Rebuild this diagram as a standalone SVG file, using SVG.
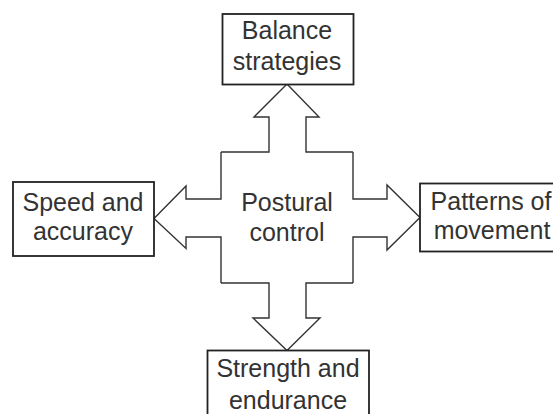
<svg xmlns="http://www.w3.org/2000/svg" width="553" height="414" viewBox="0 0 553 414">
<style>
.box{fill:#fff;stroke:#222;stroke-width:1.8}
.arrow{fill:none;stroke:#333;stroke-width:1.4;stroke-linejoin:miter}
.t{font-family:"Liberation Sans",Arial,sans-serif;font-size:25px;fill:#333;text-anchor:middle}
</style>
<rect width="553" height="414" fill="#fff"/>
<g id="connectors">
<path id="arrow-top" class="arrow" d="M221,152 H269 V117 H254 L287,84 L319,117 H306 V152 H353"/>
<path id="arrow-right" class="arrow" d="M353,152 V199 H387 V185 L420,217.5 L387,250 V237 H353 V283"/>
<path id="arrow-bottom" class="arrow" d="M353,283 H306 V318 H320 L287,350.5 L253,318 H269 V283 H221"/>
<path id="arrow-left" class="arrow" d="M221,283 V237 H186 V248.5 L154,218.5 L186,186 V199 H221 V152"/>
</g>
<g id="node-center">
<text class="t" x="287" y="211">Postural</text>
<text class="t" x="287" y="241">control</text>
</g>
<g id="node-top">
<rect class="box" x="222.5" y="14" width="131" height="70.5"/>
<text class="t" x="287" y="39">Balance</text>
<text class="t" x="287" y="70">strategies</text>
</g>
<g id="node-left">
<rect class="box" x="13" y="182" width="141" height="74"/>
<text class="t" x="83" y="211">Speed and</text>
<text class="t" x="83" y="240">accuracy</text>
</g>
<g id="node-right">
<rect class="box" x="420" y="183.5" width="150" height="68"/>
<text class="t" x="491" y="210">Patterns of</text>
<text class="t" x="492" y="239">movement</text>
</g>
<g id="node-bottom">
<rect class="box" x="207.5" y="350.5" width="161.5" height="80"/>
<text class="t" x="288" y="377">Strength and</text>
<text class="t" x="288" y="409">endurance</text>
</g>
</svg>
